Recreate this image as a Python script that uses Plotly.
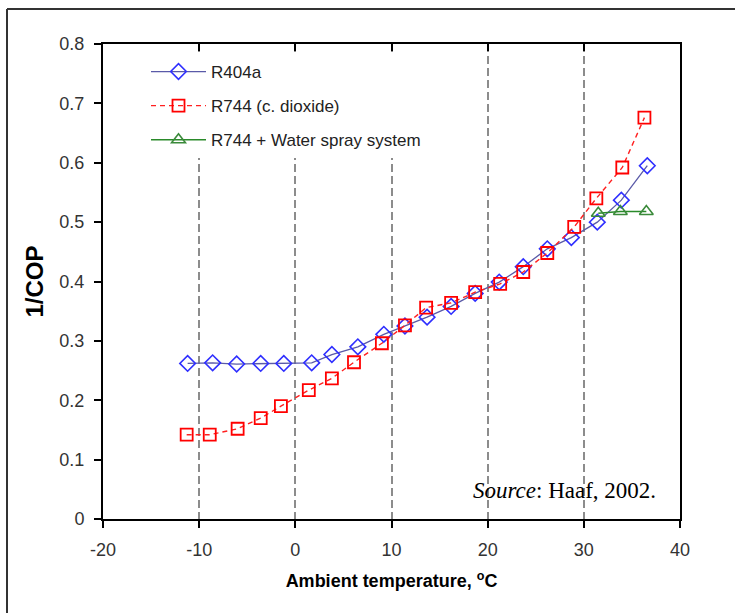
import plotly.graph_objects as go

# ---- data ----
r404a_x = [-11.2, -8.6, -6.1, -3.6, -1.2, 1.7, 3.8, 6.5, 9.2, 11.4,
           13.7, 16.2, 18.7, 21.2, 23.7, 26.2, 28.7, 31.4, 33.9, 36.6]
r404a_y = [0.262, 0.263, 0.261, 0.262, 0.262, 0.263, 0.277, 0.290, 0.311, 0.325,
           0.340, 0.358, 0.380, 0.399, 0.425, 0.455, 0.474, 0.500, 0.537, 0.595]

r744_x = [-11.3, -8.9, -6.0, -3.6, -1.5, 1.4, 3.8, 6.1, 9.0, 11.4,
          13.6, 16.2, 18.7, 21.3, 23.7, 26.2, 29.0, 31.3, 34.0, 36.3]
r744_y = [0.142, 0.142, 0.152, 0.170, 0.190, 0.217, 0.237, 0.264, 0.296, 0.326,
          0.356, 0.364, 0.382, 0.396, 0.416, 0.448, 0.492, 0.540, 0.592, 0.676]

spray_x = [31.5, 33.8, 36.5]
spray_y = [0.515, 0.518, 0.518]

series_names = ["R404a", "R744 (c. dioxide)", "R744 + Water spray system"]
x_ticks = [-20, -10, 0, 10, 20, 30, 40]
x_ticklabels = ["-20", "-10", "0", "10", "20", "30", "40"]
y_ticks = [0, 0.1, 0.2, 0.3, 0.4, 0.5, 0.6, 0.7, 0.8]
y_ticklabels = ["0", "0.1", "0.2", "0.3", "0.4", "0.5", "0.6", "0.7", "0.8"]

W, H = 735, 613
ML, MR, MT, MB = 103, 55, 44, 94
PW, PH = W - ML - MR, H - MT - MB

fig = go.Figure()
fig.add_trace(go.Scatter(
    x=r404a_x, y=r404a_y, name=series_names[0], legendgroup="a",
    mode="lines+markers",
    line=dict(color="#5a5aa8", width=1.3),
    marker=dict(symbol="diamond-open", size=12, color="#2f2fff", line=dict(width=1.6, color="#2f2fff")),
))
fig.add_trace(go.Scatter(
    x=r744_x, y=r744_y, name=series_names[1], legendgroup="b",
    mode="lines+markers",
    line=dict(color="#ff2020", width=1.4, dash="5px,4px"),
    marker=dict(symbol="square-open", size=12, color="#ff0000", line=dict(width=1.8, color="#ff0000")),
))
fig.add_trace(go.Scatter(
    x=spray_x, y=spray_y, name=series_names[2], legendgroup="c",
    mode="lines+markers",
    line=dict(color="#2a8a2a", width=1.4),
    marker=dict(symbol="triangle-up-open", size=12, color="#3a8a3a", line=dict(width=1.6, color="#3a8a3a")),
))

tickfont = dict(family="Arial, Liberation Sans, sans-serif", size=18, color="#333333")

fig.update_layout(
    width=W, height=H,
    margin=dict(l=ML, r=MR, t=MT, b=MB),
    paper_bgcolor="white", plot_bgcolor="white",
    showlegend=True,
    legend=dict(
        x=(146 - ML) / PW, y=(H - MB - 54) / PH, xanchor="left", yanchor="top",
        bgcolor="white", borderwidth=0, itemwidth=55,
        font=dict(family="Arial, Liberation Sans, sans-serif", size=17, color="#222222"),
        tracegroupgap=9,
    ),
    xaxis=dict(
        range=[-20, 40], tickvals=x_ticks, ticktext=x_ticklabels,
        ticks="outside", ticklen=7, tickwidth=1.5,
        tickcolor="black", showline=True, linecolor="black", linewidth=2, mirror=True,
        showgrid=True, gridcolor="#8c8c8c", gridwidth=1.5, griddash="8px,4px",
        zeroline=False, tickfont=tickfont, ticklabelstandoff=6,
        title=dict(text="Ambient temperature, <sup>o</sup>C", standoff=16,
                   font=dict(family="Arial, Liberation Sans, sans-serif", size=18,
                             color="black", weight="bold")),
    ),
    xaxis2=dict(
        range=[-20, 40], tickvals=x_ticks, overlaying="x", side="top", anchor="y",
        ticks="inside", ticklen=7, tickwidth=1.5, tickcolor="black",
        showticklabels=False, showgrid=False, showline=False, zeroline=False,
    ),
    yaxis=dict(
        range=[0, 0.8], tickvals=y_ticks, ticktext=y_ticklabels,
        ticks="outside", ticklen=7, tickwidth=1.5,
        tickcolor="black", showline=True, linecolor="black", linewidth=2, mirror=True,
        showgrid=False, zeroline=False, tickfont=tickfont, ticklabelstandoff=6,
        title=dict(text="1/COP", standoff=9,
                   font=dict(family="Arial, Liberation Sans, sans-serif", size=24,
                             color="black", weight="bold")),
    ),
    annotations=[dict(
        xref="paper", yref="paper", x=(658 - ML) / PW, y=(H - MB - 490) / PH,
        xanchor="right", yanchor="middle", showarrow=False,
        text="<i>Source</i>: Haaf, 2002.",
        font=dict(family="Liberation Serif, Times New Roman, serif", size=23, color="black"),
    )],
    shapes=[
        dict(type="line", xref="paper", yref="paper",
             x0=(7 - ML) / PW, x1=(7 - ML) / PW, y0=(H - MB - 640) / PH, y1=(H - MB - 9) / PH,
             line=dict(color="#333333", width=2)),
        dict(type="line", xref="paper", yref="paper",
             x0=(7 - ML) / PW, x1=(760 - ML) / PW, y0=(H - MB - 9) / PH, y1=(H - MB - 9) / PH,
             line=dict(color="#333333", width=2)),
    ],
)

# invisible trace so the top axis is drawn
fig.add_trace(go.Scatter(x=[-20], y=[None], xaxis="x2", showlegend=False, hoverinfo="skip"))

fig.write_html("out.html")
